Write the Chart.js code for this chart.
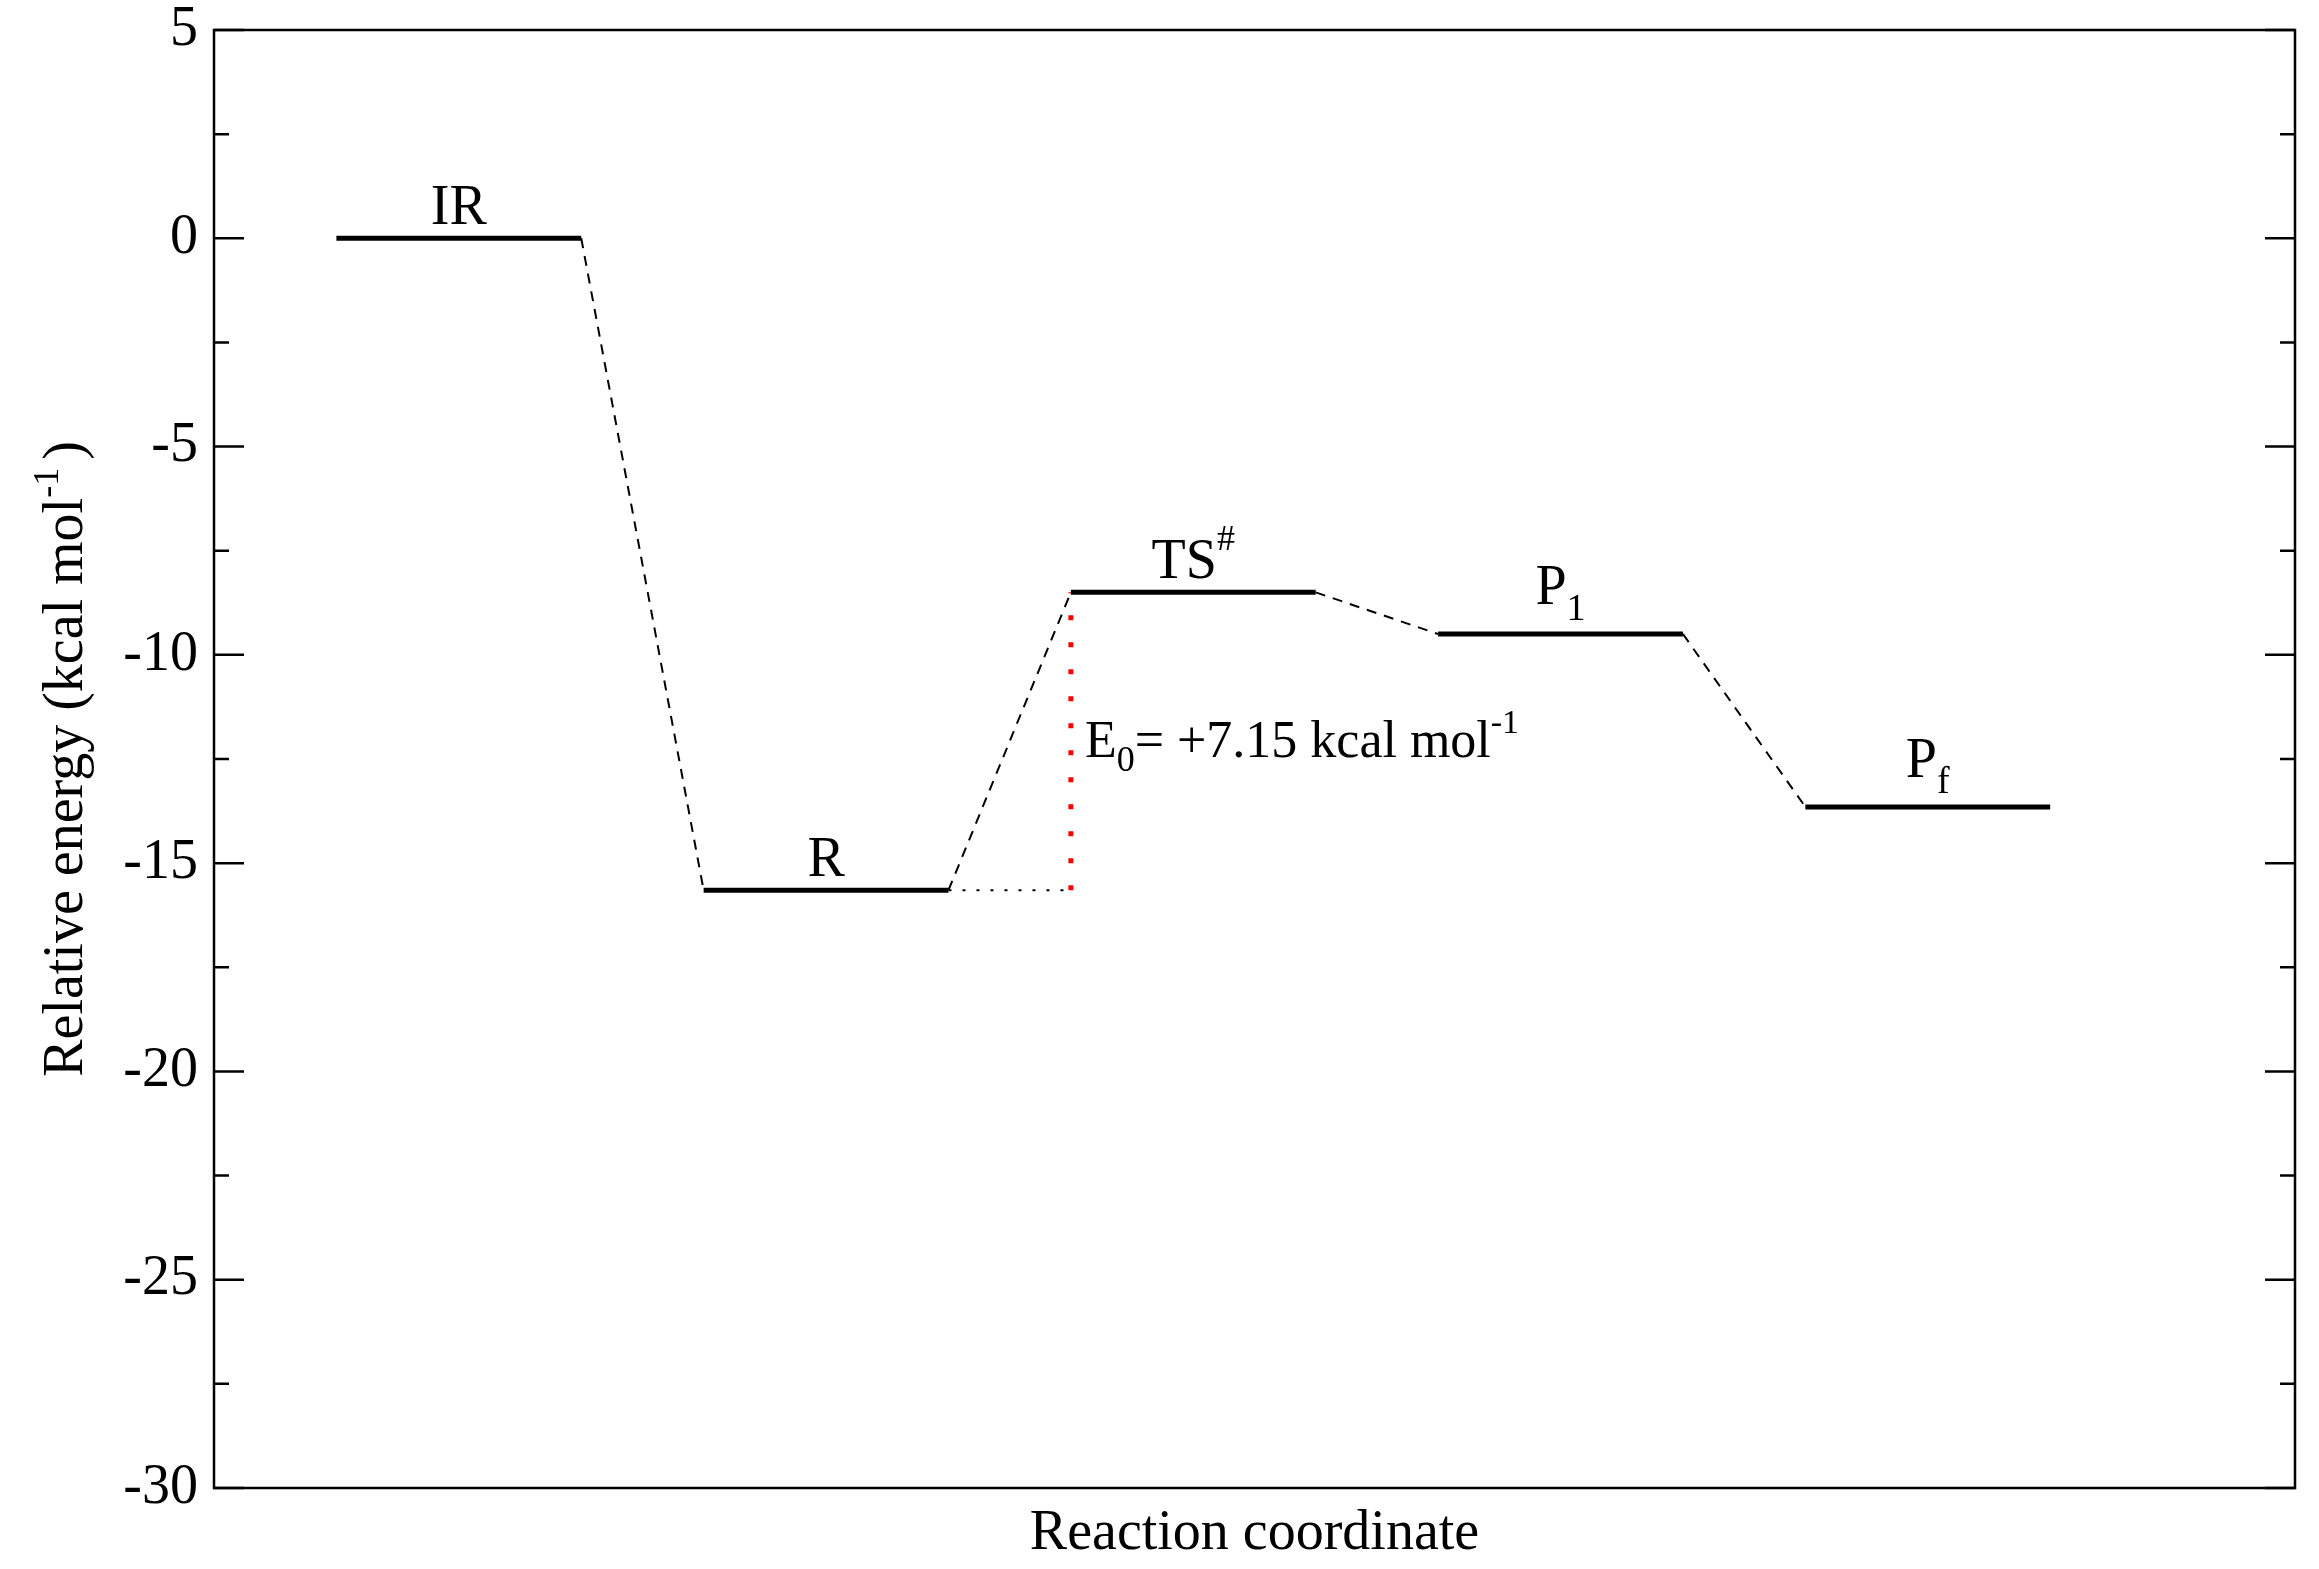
<!DOCTYPE html>
<html lang="en">
<head>
<meta charset="UTF-8">
<title>Relative energy profile</title>
<script src="https://cdn.jsdelivr.net/npm/chart.js"></script>
<style>
  html, body { margin: 0; padding: 0; background: #fff; }
  #wrap { width: 2319px; height: 1569px; }
</style>
</head>
<body>
<div id="wrap"><canvas id="profile" width="2319" height="1569"></canvas></div>
<script>
// stationary points along the reaction coordinate
const levelNames = ['IR', 'R', 'TS', 'P', 'P'];
const levelSub = ['', '', '', '1', 'f'];
const levelSup = ['', '', '#', '', ''];
const levelStart = [1, 4, 7, 10, 13];
const levelEnd = [3, 6, 9, 12, 15];
const levelEnergy = [0, -15.65, -8.5, -9.5, -13.65];
const majorTicks = [5, 0, -5, -10, -15, -20, -25, -30];

const FONT = "'Liberation Serif', 'Times New Roman', serif";
const R_IDX = 1, TS_IDX = 2;

const datasets = [];
// horizontal levels
for (let i = 0; i < levelNames.length; i++) {
    datasets.push({
        data: [{x: levelStart[i], y: levelEnergy[i]}, {x: levelEnd[i], y: levelEnergy[i]}],
        borderColor: '#000', borderWidth: 5, borderCapStyle: 'butt'
    });
}
// dashed connectors
for (let i = 0; i < levelNames.length - 1; i++) {
    datasets.push({
        data: [{x: levelEnd[i], y: levelEnergy[i]}, {x: levelStart[i + 1], y: levelEnergy[i + 1]}],
        borderColor: '#000', borderWidth: 2, borderDash: [10, 8]
    });
}
// barrier guide: dotted baseline + red vertical
datasets.push({
    data: [{x: levelEnd[R_IDX], y: levelEnergy[R_IDX]}, {x: levelStart[TS_IDX], y: levelEnergy[R_IDX]}],
    borderColor: '#000', borderWidth: 2, borderDash: [3, 11]
});
datasets.push({
    data: [{x: levelStart[TS_IDX], y: levelEnergy[R_IDX]}, {x: levelStart[TS_IDX], y: levelEnergy[TS_IDX]}],
    borderColor: '#ff0000', borderWidth: 5, borderDash: [5, 22]
});

// draws text pieces with sub/superscripts
function drawRich(ctx, parts, x, y, align) {
    let total = 0;
    parts.forEach(p => {
        ctx.font = p.size + 'px ' + FONT;
        p.w = ctx.measureText(p.text).width;
        total += p.w + (p.gap || 0);
    });
    let cx = align === 'center' ? x - total / 2 : x;
    ctx.textAlign = 'left';
    parts.forEach(p => {
        ctx.font = p.size + 'px ' + FONT;
        ctx.fillText(p.text, cx, y + (p.dy || 0));
        cx += p.w + (p.gap || 0);
    });
}

const decorPlugin = {
    id: 'decor',
    afterDraw(chart) {
        const {ctx, chartArea: a, scales: {x, y}} = chart;
        ctx.save();
        ctx.strokeStyle = '#000';
        ctx.fillStyle = '#000';
        ctx.lineWidth = 2.5;
        ctx.strokeRect(a.left, a.top, a.right - a.left, a.bottom - a.top);

        // inward ticks, both sides
        y.ticks.forEach(t => {
            const py = y.getPixelForValue(t.value);
            const len = majorTicks.includes(t.value) ? 30 : 15;
            ctx.beginPath();
            ctx.moveTo(a.left, py); ctx.lineTo(a.left + len, py);
            ctx.moveTo(a.right, py); ctx.lineTo(a.right - len, py);
            ctx.stroke();
        });

        ctx.textBaseline = 'alphabetic';
        // level labels
        for (let i = 0; i < levelNames.length; i++) {
            const px = x.getPixelForValue((levelStart[i] + levelEnd[i]) / 2);
            const py = y.getPixelForValue(levelEnergy[i]) - (levelSub[i] ? 30 : 14);
            const parts = [{text: levelNames[i], size: 56}];
            if (levelSub[i]) parts.push({text: levelSub[i], size: 38, dy: 16});
            if (levelSup[i]) parts.push({text: levelSup[i], size: 36, dy: -28});
            drawRich(ctx, parts, px, py, 'center');
        }

        // barrier annotation
        const e0 = (levelEnergy[TS_IDX] - levelEnergy[R_IDX]).toFixed(2);
        const bx = x.getPixelForValue(levelStart[TS_IDX]) + 14;
        const by = y.getPixelForValue((levelEnergy[TS_IDX] + levelEnergy[R_IDX]) / 2) + 16;
        drawRich(ctx, [
            {text: 'E', size: 52},
            {text: '0', size: 36, dy: 14},
            {text: '= +' + e0 + ' kcal mol', size: 52},
            {text: '-1', size: 34, dy: -24}
        ], bx, by, 'left');

        // axis titles
        drawRich(ctx, [{text: 'Reaction coordinate', size: 56}], (a.left + a.right) / 2, 1549, 'center');
        ctx.translate(82, (a.top + a.bottom) / 2);
        ctx.rotate(-Math.PI / 2);
        drawRich(ctx, [
            {text: 'Relative energy (kcal mol', size: 56},
            {text: '-1', size: 36, dy: -24, gap: 8},
            {text: ')', size: 56}
        ], 0, 0, 'center');
        ctx.restore();
    }
};

new Chart(document.getElementById('profile'), {
    type: 'scatter',
    data: {datasets: datasets},
    options: {
        responsive: false,
        animation: false,
        showLine: true,
        elements: {point: {radius: 0, hoverRadius: 0}, line: {tension: 0}},
        layout: {padding: {top: 30, right: 24, bottom: 81, left: 0}},
        plugins: {legend: {display: false}, tooltip: {enabled: false}},
        scales: {
            x: {type: 'linear', min: 0, max: 17, display: false},
            y: {
                type: 'linear', min: -30, max: 5,
                afterFit(s) { s.width = 214; s.paddingTop = 0; s.paddingBottom = 0; },
                grid: {display: false, drawTicks: false},
                border: {display: false},
                ticks: {
                    stepSize: 2.5, autoSkip: false, padding: 16, color: '#000',
                    font: {family: FONT, size: 56, lineHeight: 1},
                    callback: v => majorTicks.includes(v) ? String(v) : ''
                }
            }
        }
    },
    plugins: [decorPlugin]
});
</script>
</body>
</html>
